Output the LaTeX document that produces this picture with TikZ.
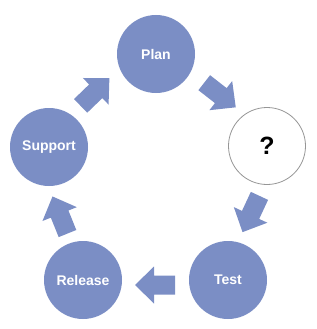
\documentclass[tikz,border=0pt]{standalone}
\usepackage{fontspec}
\setmainfont{Liberation Sans}
\definecolor{cyc}{RGB}{123,142,197}
\definecolor{ringgray}{RGB}{150,150,150}
\begin{document}
\begin{tikzpicture}[x=1pt,y=-1pt,
  stage/.style={circle,fill=cyc,minimum size=78pt,inner sep=0pt,text=white,
    font=\bfseries\fontsize{14}{16}\selectfont},
  blank/.style={circle,draw=ringgray,line width=0.8pt,fill=white,minimum size=77pt,
    inner sep=0pt,text=black,font=\bfseries\fontsize{25}{28}\selectfont},
  blockarrow/.pic={\fill[cyc] (-20,-9.5) -- (1,-9.5) -- (1,-18.5) -- (20,0)
    -- (1,18.5) -- (1,9.5) -- (-20,9.5) -- cycle;}]
\useasboundingbox (0,0) rectangle (316,329);
\node[stage] (plan) at (156,54) {Plan};
\node[blank] (q) at (267,146) {?};
\node[stage] (test) at (228,280) {Test};
\node[stage] (release) at (83,280) {Release};
\node[stage] (support) at (49,147) {Support};
\pic[rotate=-38] at (220,95) {blockarrow};
\pic[rotate=-115] at (251,214) {blockarrow};
\pic[rotate=180] at (155,285) {blockarrow};
\pic[rotate=112] at (60,215) {blockarrow};
\pic[rotate=44] at (95,92) {blockarrow};
\end{tikzpicture}
\end{document}
